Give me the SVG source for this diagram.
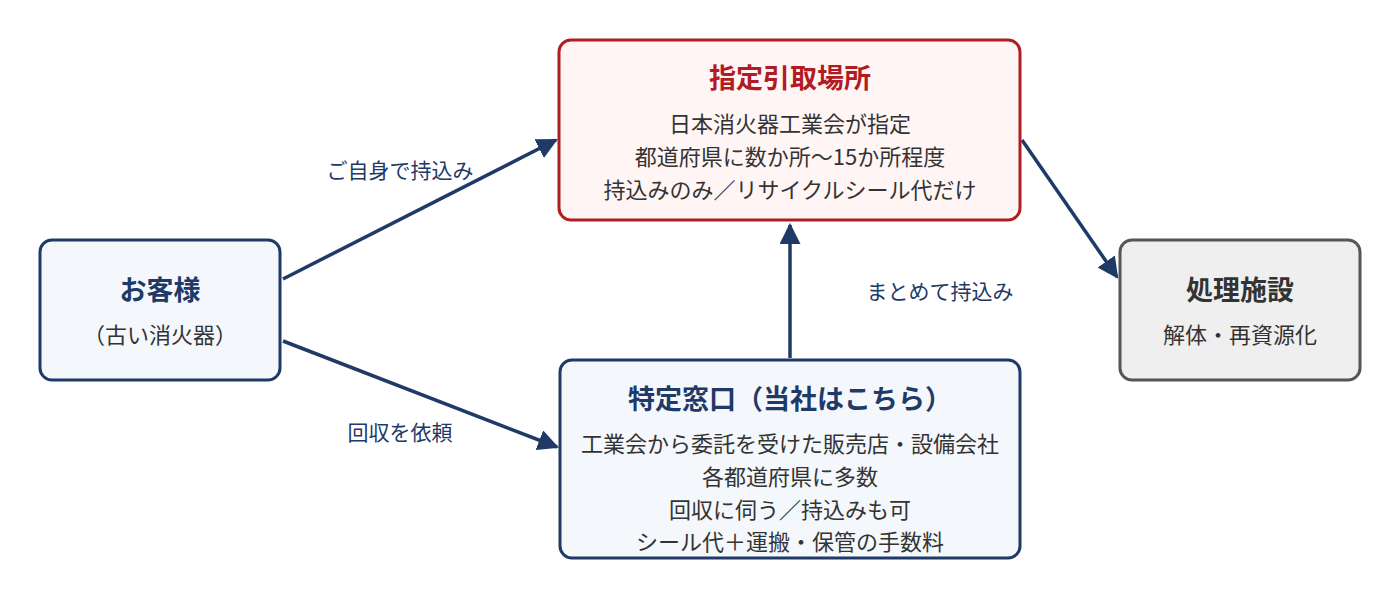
<svg xmlns="http://www.w3.org/2000/svg" width="1400" height="600" viewBox="0 0 1400 600">
<style>
text{font-family:"Noto Sans CJK JP","Noto Sans",sans-serif;text-anchor:middle}
.t{font-size:27px;font-weight:bold;fill:#1f3a66}
.b{font-size:22px;fill:#333}
.l{font-size:21px;fill:#1f3a66}
.n{fill:#f4f7fb;stroke:#1f3a66;stroke-width:3}
.c{stroke:#1f3a66;stroke-width:3.5;fill:none;marker-end:url(#a)}
</style>
<defs><marker id="a" viewBox="0 0 10 10" refX="9" refY="5" markerWidth="6" markerHeight="6" orient="auto" markerUnits="strokeWidth"><path d="M0,0L10,5L0,10z" fill="#1f3a66"/></marker></defs>
<rect width="1400" height="600" fill="#fff"/>
<g id="connectors">
<line class="c" x1="283" y1="279" x2="556" y2="140"/>
<line class="c" x1="283" y1="341" x2="557" y2="447"/>
<line class="c" x1="790" y1="358" x2="790" y2="225"/>
<line class="c" x1="1022" y1="140" x2="1117" y2="277"/>
<text class="l" x="400" y="178">ご自身で持込み</text>
<text class="l" x="400" y="440">回収を依頼</text>
<text class="l" x="940" y="299">まとめて持込み</text>
</g>
<g id="customer"><rect class="n" x="40" y="240" width="240" height="140" rx="12"/>
<text class="t" x="160" y="300">お客様</text><text class="b" x="160" y="343">（古い消火器）</text></g>
<g id="designated"><rect x="559" y="40" width="461" height="180" rx="12" fill="#fff5f5" stroke="#b01c22" stroke-width="3"/>
<text class="t" x="790" y="88" style="fill:#b01c22">指定引取場所</text>
<text class="b" x="790" y="132">日本消火器工業会が指定</text>
<text class="b" x="790" y="165">都道府県に数か所〜15か所程度</text>
<text class="b" x="790" y="198">持込みのみ／リサイクルシール代だけ</text></g>
<g id="facility"><rect x="1120" y="240" width="240" height="140" rx="12" fill="#efefef" stroke="#555" stroke-width="3"/>
<text class="t" x="1240" y="300" style="fill:#333">処理施設</text><text class="b" x="1240" y="343">解体・再資源化</text></g>
<g id="window"><rect class="n" x="560" y="360" width="460" height="198" rx="12"/>
<text class="t" x="790" y="409">特定窓口（当社はこちら）</text>
<text class="b" x="790" y="452">工業会から委託を受けた販売店・設備会社</text>
<text class="b" x="790" y="485">各都道府県に多数</text>
<text class="b" x="790" y="518">回収に伺う／持込みも可</text>
<text class="b" x="790" y="550">シール代＋運搬・保管の手数料</text></g>
</svg>
